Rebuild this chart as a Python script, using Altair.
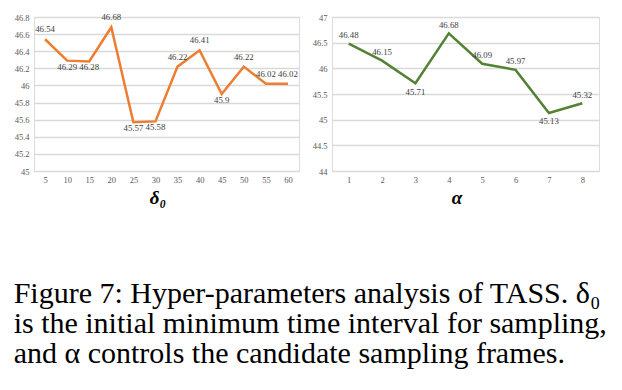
import altair as alt
import pandas as pd

# ---- data ----
delta0 = [5, 10, 15, 20, 25, 30, 35, 40, 45, 50, 55, 60]
delta_map = [46.54, 46.29, 46.28, 46.68, 45.57, 45.58, 46.22, 46.41, 45.9, 46.22, 46.02, 46.02]
delta_yticks = [45, 45.2, 45.4, 45.6, 45.8, 46, 46.2, 46.4, 46.6, 46.8]

alpha = [1, 2, 3, 4, 5, 6, 7, 8]
alpha_map = [46.48, 46.15, 45.71, 46.68, 46.09, 45.97, 45.13, 45.32]
alpha_yticks = [44, 44.5, 45, 45.5, 46, 46.5, 47]

caption = [
    "Figure 7: Hyper-parameters analysis of TASS. δ₀",
    "is the initial minimum time interval for sampling,",
    "and α controls the candidate sampling frames.",
]

# ---- label placement (style) ----
DELTA_BELOW = {10, 15, 25, 30, 45}
ALPHA_BELOW = {3, 7}

SERIF = "Liberation Serif"
TICK_STYLE = dict(labelFont=SERIF, labelFontSize=8.5, labelColor="#595959")


def panel(xs, ys, below_set, title, ydomain, yticks, color, width, above_dy, below_dy):
    df = pd.DataFrame({
        "x": xs,
        "v": ys,
        "pos": ["below" if x in below_set else "above" for x in xs],
    })
    base = alt.Chart(df).encode(
        x=alt.X(
            "x:O",
            sort=xs,
            scale=alt.Scale(type="point", padding=0.5),
            axis=alt.Axis(
                title=title,
                labelAngle=0,
                grid=False,
                domain=False,
                ticks=False,
                labelPadding=4,
                titleFont=SERIF,
                titleFontStyle="italic",
                titleFontWeight="bold",
                titleFontSize=19,
                titleColor="#000000",
                titlePadding=5,
                titleX=width / 2 - 9,
                **TICK_STYLE,
            ),
        ),
        y=alt.Y(
            "v:Q",
            scale=alt.Scale(domain=ydomain, nice=False, zero=False),
            axis=alt.Axis(
                values=yticks,
                format="~g",
                title=None,
                domain=False,
                ticks=False,
                grid=True,
                gridColor="#D9D9D9",
                gridWidth=1.3,
                labelPadding=5,
                **TICK_STYLE,
            ),
        ),
    )
    line = base.mark_line(color=color, strokeWidth=2.5)
    lab_above = base.transform_filter(alt.datum.pos == "above").mark_text(
        dy=above_dy, font=SERIF, fontSize=8.8, color="#404040"
    ).encode(text=alt.Text("v:Q", format="~g"))
    lab_below = base.transform_filter(alt.datum.pos == "below").mark_text(
        dy=below_dy, font=SERIF, fontSize=8.8, color="#404040"
    ).encode(text=alt.Text("v:Q", format="~g"))
    return alt.layer(line, lab_above, lab_below).properties(width=width, height=154)


left = panel(delta0, delta_map, DELTA_BELOW, "δ₀", [45, 46.8], delta_yticks,
             "#ED7D31", 265, -10, 6)
right = panel(alpha, alpha_map, ALPHA_BELOW, "α", [44, 47], alpha_yticks,
              "#548235", 267, -8.5, 8.5)

chart = alt.hconcat(left, right, spacing=11).properties(
    title=alt.TitleParams(
        text=caption,
        orient="bottom",
        anchor="start",
        font=SERIF,
        fontSize=30,
        fontWeight="normal",
        color="#000000",
        lineHeight=30,
        offset=71,
    ),
    padding={"left": 5, "top": 4, "right": 0, "bottom": 0},
).configure_view(stroke=None).configure(background="white")

chart.save("out.html", embed_options={"renderer": "svg", "actions": False})
